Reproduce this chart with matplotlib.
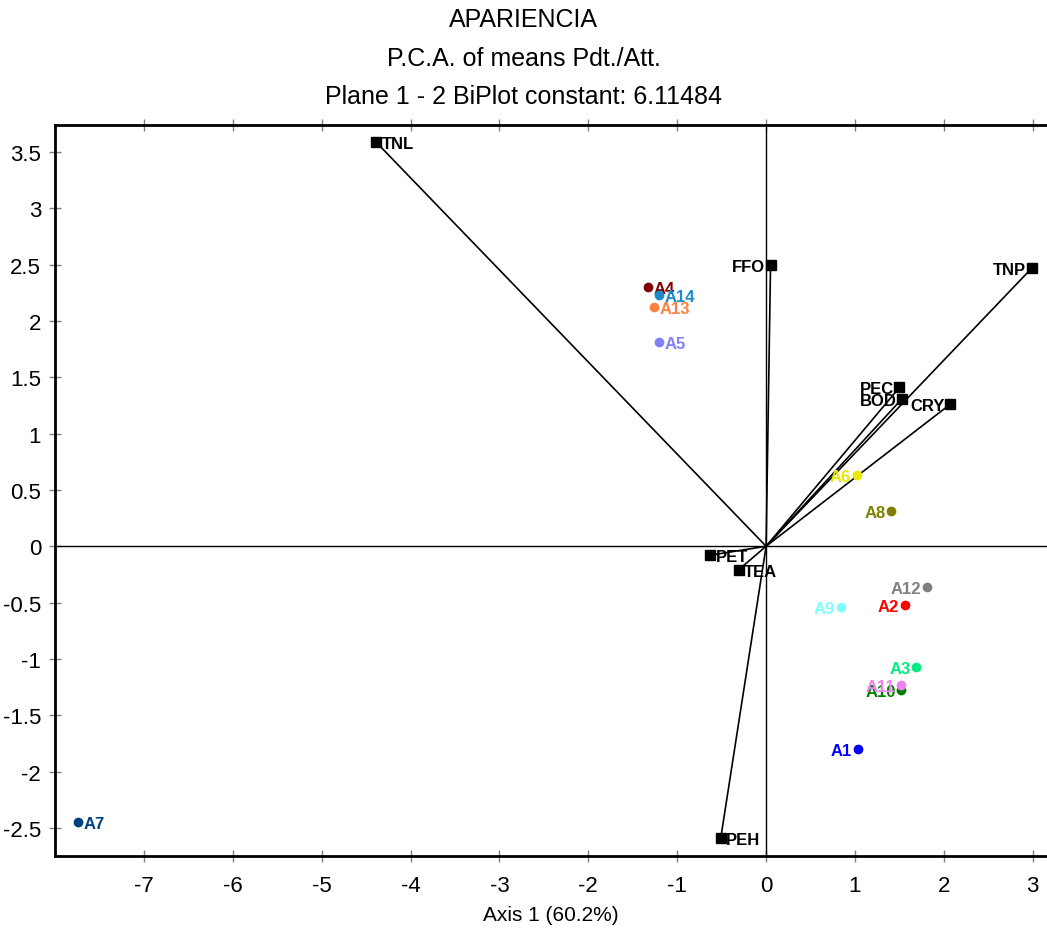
import matplotlib
matplotlib.use("Agg")
import matplotlib.pyplot as plt
from matplotlib import font_manager

# condensed sans if available, else regular Liberation Sans
names = {f.name for f in font_manager.fontManager.ttflist}
narrow = "Liberation Sans Narrow" if "Liberation Sans Narrow" in names else "Liberation Sans"
plt.rcParams["font.family"] = [narrow, "DejaVu Sans"]

# attributes (biplot vectors)
att_names = ["TNL", "FFO", "TNP", "PEC", "BOD", "CRY", "PET", "TEA", "PEH"]
att_x = [-4.39, 0.05, 2.99, 1.50, 1.53, 2.07, -0.63, -0.31, -0.51]
att_y = [3.59, 2.50, 2.47, 1.41, 1.31, 1.26, -0.08, -0.21, -2.59]
att_side = ["r", "l", "l", "l", "l", "l", "r", "r", "r"]

# products
prd_names = ["A1", "A2", "A3", "A4", "A5", "A6", "A7", "A8", "A9", "A10", "A11", "A12", "A13", "A14"]
prd_x = [1.03, 1.56, 1.69, -1.33, -1.21, 1.02, -7.74, 1.41, 0.84, 1.52, 1.52, 1.81, -1.26, -1.21]
prd_y = [-1.80, -0.52, -1.07, 2.30, 1.81, 0.63, -2.45, 0.31, -0.54, -1.28, -1.23, -0.36, 2.12, 2.23]
prd_side = ["l", "l", "l", "r", "r", "l", "r", "l", "l", "l", "l", "l", "r", "r"]
prd_colors = ["#0000ff", "#ff0000", "#00ee80", "#800000", "#8080ff", "#e8e800", "#004080",
              "#808000", "#80ffff", "#008000", "#ee82ee", "#808080", "#ff8040", "#1a8ccc"]

fig = plt.figure(figsize=(10.47, 9.29), dpi=100)
ax = fig.add_axes([0.0525, 0.0775, 0.9475, 0.7869])

ax.axhline(0, color="black", lw=1)
ax.axvline(0, color="black", lw=1)

for name, x, y, side in zip(att_names, att_x, att_y, att_side):
    ax.plot([0, x], [0, y], color="black", lw=1.2, zorder=2)
    ax.plot(x, y, marker="s", color="black", ms=6.5, zorder=3)
    if side == "r":
        ax.annotate(name, (x, y), xytext=(4, -1), textcoords="offset points",
                    ha="left", va="center", fontsize=12, fontweight="bold")
    else:
        ax.annotate(name, (x, y), xytext=(-4, -1), textcoords="offset points",
                    ha="right", va="center", fontsize=12, fontweight="bold")

for name, x, y, side, c in zip(prd_names, prd_x, prd_y, prd_side, prd_colors):
    ax.plot(x, y, marker="o", color=c, ms=6, zorder=4)
    if side == "r":
        ax.annotate(name, (x, y), xytext=(4, -1), textcoords="offset points",
                    ha="left", va="center", fontsize=12, fontweight="bold", color=c)
    else:
        ax.annotate(name, (x, y), xytext=(-4, -1), textcoords="offset points",
                    ha="right", va="center", fontsize=12, fontweight="bold", color=c)

ax.set_xlim(-8.0, 3.16)
ax.set_ylim(-2.75, 3.74)
ax.set_xticks(range(-7, 4))
ax.set_xticklabels([str(v) for v in range(-7, 4)])
yt = [-2.5, -2, -1.5, -1, -0.5, 0, 0.5, 1, 1.5, 2, 2.5, 3, 3.5]
ax.set_yticks(yt)
ax.set_yticklabels([("%g" % v) for v in yt])
ax.tick_params(axis="both", direction="inout", length=8, width=1, color="gray",
               labelsize=16, top=True, pad=6)
ax.tick_params(axis="x", pad=10)
for s in ["left", "bottom", "top"]:
    ax.spines[s].set_linewidth(2)
ax.spines["right"].set_visible(False)

ax.set_xlabel("Axis 1 (60.2%)", fontsize=15, labelpad=6)
fig.suptitle("APARIENCIA\nP.C.A. of means Pdt./Att.\nPlane 1 - 2 BiPlot constant: 6.11484",
             fontsize=18, y=0.991, linespacing=1.75)

fig.savefig("out.png", dpi=100)
